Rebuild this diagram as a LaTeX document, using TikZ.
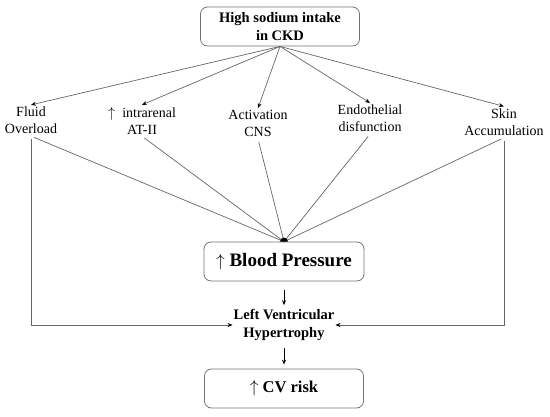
\documentclass[tikz,border=0pt]{standalone}
\usepackage{fontspec}
\setmainfont{Liberation Serif}
\usetikzlibrary{positioning, arrows.meta}
\tikzset{
  box/.style={draw=black!55, rounded corners=7pt, line width=0.8pt, align=center, minimum width=159pt, minimum height=39pt, inner sep=2pt},
  factor/.style={align=center, font=\fontsize{14}{17}\selectfont, inner sep=2pt},
  fan/.style={draw=black!60, line width=0.7pt, -{Stealth[length=5pt, width=4pt, color=black]}},
  feed/.style={draw=black!60, line width=0.7pt, shorten <=3pt},
  darr/.style={line width=0.9pt, -{Stealth[length=5pt, width=4pt]}}
}
\begin{document}
\begin{tikzpicture}[x=1pt, y=-1pt]
\useasboundingbox (0,0) rectangle (550,416);
\node[box, font=\bfseries\fontsize{14.5}{18}\selectfont] (intake) at (280,26.5) {High sodium intake\\in CKD};
\node[factor] (fluid) at (31,120.5) {Fluid\\Overload};
\node[factor] (at2) at (142,120.5) {$\uparrow$\ \ intrarenal\\AT-II};
\node[factor] (cns) at (258,123.5) {Activation\\CNS};
\node[factor] (endo) at (370,118.5) {Endothelial\\disfunction};
\node[factor] (skin) at (504,122) {Skin\\Accumulation};
\node[box, minimum width=160pt, font=\bfseries\fontsize{19}{22}\selectfont] (bp) at (284,261.5) {$\uparrow$ Blood Pressure};
\node[align=center, inner sep=1pt, font=\bfseries\fontsize{14.5}{18}\selectfont] (lvh) at (284,325) {Left Ventricular\\Hypertrophy};
\node[box, font=\bfseries\fontsize{16.5}{19}\selectfont] (cv) at (284,388.5) {$\uparrow$ CV risk};
% fan out
\foreach \f in {fluid, at2, cns, endo, skin}
  \draw[fan] (intake.south) -- (\f.north);
% converge on blood pressure
\foreach \f in {fluid, at2, cns, endo, skin}
  \draw[feed] (\f.south) -- (bp.north);
\fill ([xshift=-4pt]bp.north) arc[start angle=180, end angle=0, radius=4pt] -- cycle;
\draw[feed, -{Stealth[length=5pt, width=4pt, color=black]}] (fluid.south) |- (lvh.west);
\draw[feed, -{Stealth[length=5pt, width=4pt, color=black]}] (skin.south) |- (lvh.east);
\draw[darr, shorten <=9pt, shorten >=3pt] (bp.south) -- (lvh.north);
\draw[darr, shorten <=6pt, shorten >=4pt] (lvh.south) -- (cv.north);
\end{tikzpicture}
\end{document}
